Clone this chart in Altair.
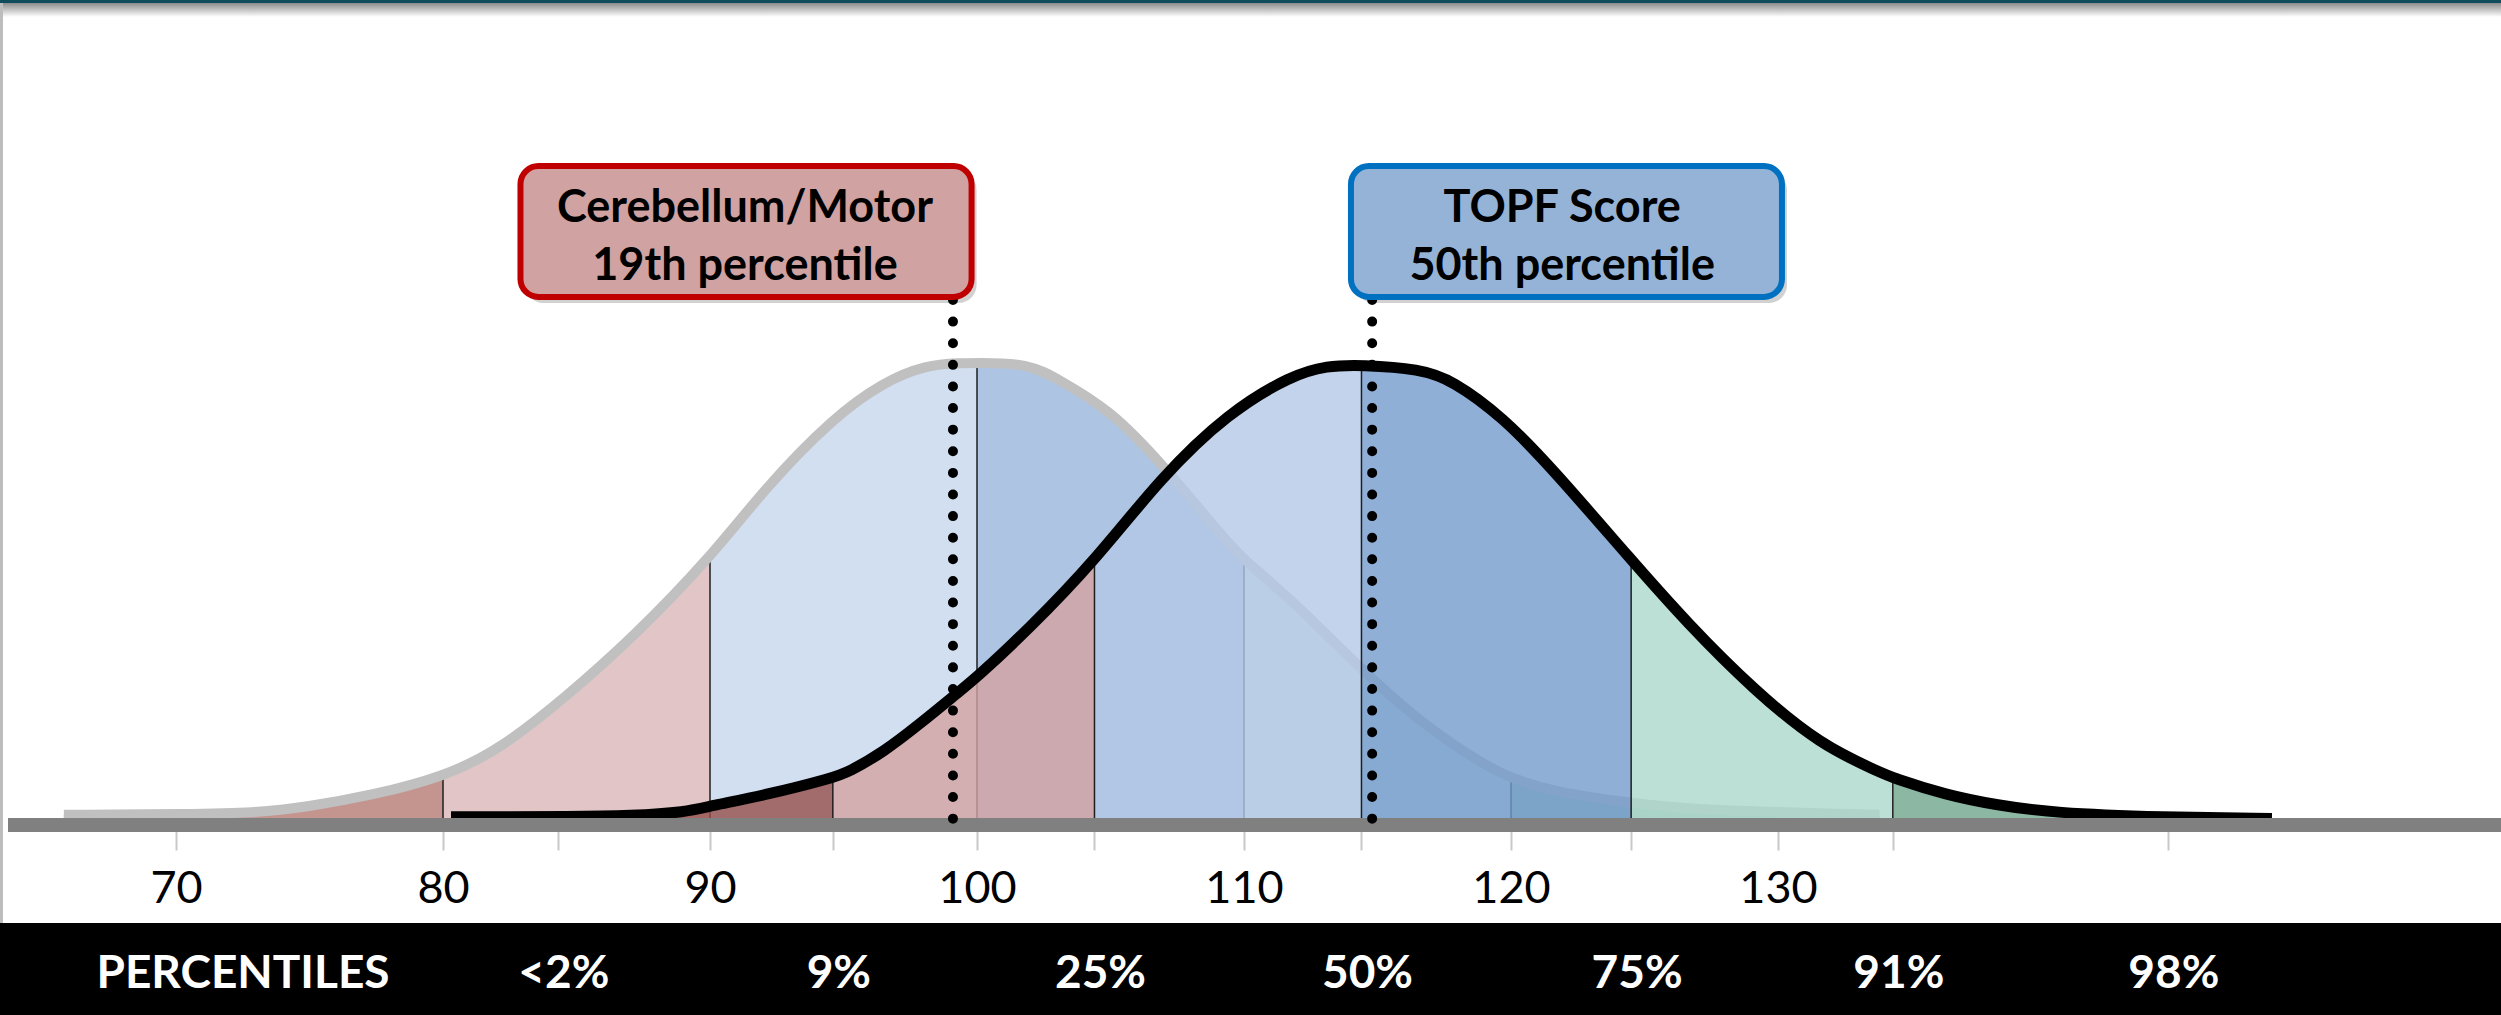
import altair as alt
import pandas as pd

# ---------------------------------------------------------------
# Normative curve (standard scores, mean 100) - height as % of peak
NORM_X = [65.8, 70.5, 72.9, 74.9, 77.4, 80, 82.1, 84.6, 87.1, 90, 92.1, 94.6,
          96.5, 98.1, 99.4, 100, 101.9, 103.1, 105.0, 106.9, 109.4, 110, 111.8,
          114.3, 116.6, 119.1, 120, 121.6, 124.5, 126.6, 133.8]
NORM_H = [2.2, 2.4, 2.6, 3.9, 6.5, 10.4, 16.2, 27.7, 40.5, 57.8, 73.2, 88.1,
          95.9, 99.6, 100, 100, 100, 96.3, 89.8, 78.4, 61.0, 57.4, 48.7,
          34.2, 22.1, 12.6, 10.2, 7.1, 4.8, 3.3, 2.2]
NORM_CUTS = [80, 90, 100, 110, 120]

# TOPF-adjusted curve
TOPF_X = [80.3, 82.1, 84.6, 87.1, 89.1, 90.0, 92.1, 94.6, 95.2, 96.5, 97.8,
          99.4, 100.0, 101.9, 104.4, 106.9, 109.4, 111.8, 113.1, 114.4, 116.6,
          117.8, 119.7, 121.6, 124.5, 126.6, 129.1, 131.6, 133.8, 134.3, 136.3,
          138.2, 140.3, 144.4, 148.5]
TOPF_H = [1.8, 1.8, 1.8, 2.0, 2.8, 4.1, 6.5, 10.2, 11.5, 15.8, 21.6,
          29.2, 32.0, 42.2, 57.1, 75.3, 89.2, 97.4, 99.4, 99.6, 98.7,
          96.3, 88.3, 76.8, 57.4, 43.7, 29.2, 17.3, 11.5, 10.2, 6.5,
          4.3, 2.6, 1.7, 1.4]
TOPF_CUTS = [94.6, 104.4, 114.4, 124.5, 134.3]

# Axis ticks and band labels
SCORE_TICKS = [70, 80, 90, 100, 110, 120, 130]
PCT_SCORES = [84.3, 94.6, 104.4, 114.4, 124.5, 134.3, 144.6]
PCT_LABELS = ["<2%", "9%", "25%", "50%", "75%", "91%", "98%"]

# Callouts: label lines, score of the marker
CALLOUTS = [
    {"lines": ["Cerebellum/Motor", "19th percentile"], "score": 99.1},
    {"lines": ["TOPF Score", "50th percentile"], "score": 114.8},
]

# ---------------------------------------------------------------
NORM_FILLS = ["#C4958F", "#E2C6C7", "#D2DFF1", "#ADC4E2", "#D4E6E6", "#9EC3B4"]
TOPF_FILLS = ["#964F4B", "#D3A3A2", "#B3C8E6", "#739BCD", "#ABD8CC", "#6EA58C"]
CALLOUT_STYLE = [
    {"fill": "#D0A2A2", "stroke": "#C00000", "x0": -432.5, "x1": 18.6, "dx": -208},
    {"fill": "#95B3D7", "stroke": "#0070C0", "x0": -21.2, "x1": 409.8, "dx": 190},
]

W, H, BOTTOM = 2501, 825, 190
FONT = "Lato"
CURVE = "basis"

X_SCALE = alt.Scale(domain=[63.408, 157.079], nice=False, zero=False)
Y_SCALE = alt.Scale(domain=[0, 178.57], nice=False, zero=False)
SEG_NAMES = [f"N{i}" for i in range(6)] + [f"T{i}" for i in range(6)]
SEG_SCALE = alt.Scale(domain=SEG_NAMES, range=NORM_FILLS + TOPF_FILLS)
AXIS = alt.Axis(
    values=sorted(SCORE_TICKS + PCT_SCORES),
    labelExpr="datum.value % 10 === 0 ? datum.label : ''",
    tickSize=25, tickColor="#C8C8C8", tickWidth=2,
    domain=False, grid=False, title=None,
    labelFont=FONT, labelFontSize=45, labelColor="black",
    labelBaseline="alphabetic", labelPadding=52,
    labelOverlap=False, labelFlush=False,
)


def X(field="x"):
    return alt.X(f"{field}:Q", scale=X_SCALE, axis=AXIS)


def Y(field="h"):
    return alt.Y(f"{field}:Q", scale=Y_SCALE, axis=None, stack=None)


def segmented(xs, hs, cuts, prefix):
    rows = []
    for x, h in zip(xs, hs):
        k = sum(1 for c in cuts if c < x)
        rows.append({"x": x, "h": h, "seg": f"{prefix}{k}"})
        if x in cuts:
            rows.append({"x": x, "h": h, "seg": f"{prefix}{k + 1}"})
    return pd.DataFrame(rows)


def cut_table(xs, hs, cuts):
    lookup = dict(zip(xs, hs))
    return pd.DataFrame({"x": cuts, "h": [lookup[c] for c in cuts], "z": 0})


one = pd.DataFrame({"k": [0]})

norm = pd.DataFrame({"x": NORM_X, "h": NORM_H})
topf = pd.DataFrame({"x": TOPF_X, "h": TOPF_H})


def fills(xs, hs, cuts, prefix, opacity):
    df = segmented(xs, hs, cuts, prefix)
    return alt.Chart(df).mark_area(interpolate=CURVE, opacity=opacity).encode(
        x=X(), y=Y(),
        color=alt.Color("seg:N", scale=SEG_SCALE, legend=None),
    )


def cut_rules(xs, hs, cuts):
    return alt.Chart(cut_table(xs, hs, cuts)).mark_rule(color="#1F1F1F", strokeWidth=1.5).encode(
        x=X(), y=Y(), y2=alt.Y2("z:Q")
    )


norm_fill = fills(NORM_X, NORM_H, NORM_CUTS, "N", 1.0)
norm_cuts = cut_rules(NORM_X, NORM_H, NORM_CUTS)
norm_line = alt.Chart(norm).mark_line(interpolate=CURVE, color="#C0C0C0", strokeWidth=10).encode(
    x=X(), y=Y()
)

topf_fill = fills(TOPF_X, TOPF_H, TOPF_CUTS, "T", 0.8)
topf_cuts = cut_rules(TOPF_X, TOPF_H, TOPF_CUTS)
topf_line = alt.Chart(topf).mark_line(interpolate=CURVE, color="black", strokeWidth=11).encode(
    x=X(), y=Y()
)

# Thick baseline bar
baseline = alt.Chart(pd.DataFrame({"z": [0]})).mark_rule(color="#808080", strokeWidth=14).encode(
    x=alt.value(8), x2=alt.value(W), y=Y("z")
)

markers = pd.DataFrame({"x": [c["score"] for c in CALLOUTS]})
dots = alt.Chart(markers).mark_rule(
    color="black", strokeWidth=10, strokeCap="round", strokeDash=[0.01, 21.6]
).encode(x=X(), y=alt.value(300), y2=alt.value(822))

callout_layers = []
for c, s in zip(CALLOUTS, CALLOUT_STYLE):
    d = pd.DataFrame({"x": [c["score"]]})
    shadow = alt.Chart(d).mark_rect(
        cornerRadius=18, color="black", opacity=0.18,
        xOffset=s["x0"] + 5, x2Offset=s["x1"] + 5, yOffset=6, y2Offset=6,
    ).encode(x=X(), x2=alt.X2("x"), y=alt.value(166), y2=alt.value(297))
    box = alt.Chart(d).mark_rect(
        cornerRadius=18, fill=s["fill"], stroke=s["stroke"], strokeWidth=6,
        xOffset=s["x0"], x2Offset=s["x1"],
    ).encode(x=X(), x2=alt.X2("x"), y=alt.value(166), y2=alt.value(297))
    label = alt.Chart(d).mark_text(
        text=c["lines"], font=FONT, fontSize=45, fontWeight="bold", color="black",
        align="center", baseline="alphabetic", lineHeight=58, dx=s["dx"],
    ).encode(x=X(), y=alt.value(222))
    callout_layers += [shadow, box, label]

# Percentile band along the bottom
band = alt.Chart(one).mark_rect(color="black").encode(
    x=alt.value(0), x2=alt.value(W), y=alt.value(923), y2=alt.value(H + BOTTOM)
)
band_title = alt.Chart(one).mark_text(
    text="PERCENTILES", font=FONT, fontSize=46, fontWeight="bold", color="white",
    align="center", baseline="alphabetic",
).encode(x=alt.value(243), y=alt.value(988))
band_labels = alt.Chart(pd.DataFrame({"x": PCT_SCORES, "label": PCT_LABELS})).mark_text(
    font=FONT, fontSize=46, fontWeight="bold", color="white",
    align="center", baseline="alphabetic", dx=6,
).encode(x=X(), y=alt.value(988), text="label:N")

# Slide frame: top rule with soft shadow, left edge line
top_bar = alt.Chart(one).mark_rect(color="#0F4C5C").encode(
    x=alt.value(0), x2=alt.value(W), y=alt.value(0), y2=alt.value(3)
)
top_shade = alt.Chart(one).mark_rect(
    color=alt.LinearGradient(
        gradient="linear", x1=0, x2=0, y1=0, y2=1,
        stops=[alt.GradientStop(color="#8C8C8C", offset=0),
               alt.GradientStop(color="#FFFFFF", offset=1)],
    )
).encode(x=alt.value(0), x2=alt.value(W), y=alt.value(3), y2=alt.value(17))
left_edge = alt.Chart(one).mark_rect(color="#BDBDBD").encode(
    x=alt.value(0), x2=alt.value(3), y=alt.value(3), y2=alt.value(923)
)

chart = alt.layer(
    norm_fill, norm_cuts, norm_line,
    topf_fill, topf_cuts, topf_line,
    baseline, dots,
    *callout_layers,
    band, band_title, band_labels,
    top_bar, top_shade, left_edge,
).properties(
    width=W, height=H,
    padding={"left": 0, "top": 0, "right": 0, "bottom": BOTTOM},
    autosize=alt.AutoSizeParams(type="none"),
    background="white",
).configure_view(stroke=None)

chart.save("out.html", embed_options={"renderer": "svg", "actions": False})
